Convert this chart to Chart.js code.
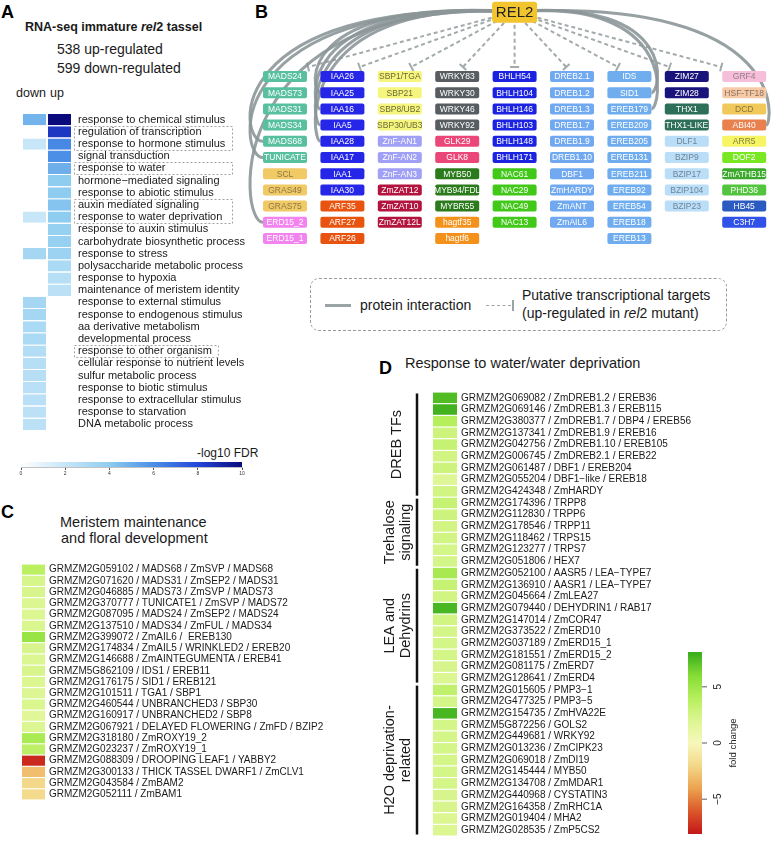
<!DOCTYPE html>
<html>
<head>
<meta charset="utf-8">
<script src="https://cdn.jsdelivr.net/npm/chart.js@4.4.1/dist/chart.umd.min.js"></script>
<style>
  body { margin:0; background:#fff; width:774px; height:846px; position:relative; overflow:hidden;
         font-family:"Liberation Sans", Arial, sans-serif; color:#1a1a1a; }
  canvas { position:absolute; }
  .t { position:absolute; white-space:nowrap; line-height:1; }
  .lbl { font-weight:bold; font-size:18px; color:#000; }
  .legend { position:absolute; left:310px; top:278px; width:417px; height:53px; border:1px dashed #9a9a9a; border-radius:9px; box-sizing:border-box; }
</style>
</head>
<body>

<div class="t lbl" style="left:1px;top:3px">A</div>
<div class="t" style="left:25px;top:21px;font-size:12.5px;font-weight:bold">RNA-seq immature <i>rel</i>2 tassel</div>
<div class="t" style="left:57px;top:42px;font-size:14px">538 up-regulated</div>
<div class="t" style="left:57px;top:60.5px;font-size:14px">599 down-regulated</div>
<div class="t" style="left:16px;top:87px;font-size:12.5px">down</div>
<div class="t" style="left:50px;top:87px;font-size:12.5px">up</div>
<div class="t" style="left:197px;top:446.5px;font-size:12px">-log10 FDR</div>

<div class="t lbl" style="left:255px;top:3px">B</div>
<div class="legend"></div>
<div style="position:absolute;left:325px;top:304px;width:26px;height:3px;background:#9aa3a5"></div>
<div class="t" style="left:360px;top:298px;font-size:14px">protein interaction</div>
<div style="position:absolute;left:486px;top:305px;width:25px;border-top:1.5px dashed #9aa3a5"></div>
<div style="position:absolute;left:512px;top:300px;width:1.5px;height:11px;background:#9aa3a5"></div>
<div class="t" style="left:522px;top:288px;font-size:14px">Putative transcriptional targets</div>
<div class="t" style="left:522px;top:306px;font-size:14px">(up-regulated in <i>rel</i>2 mutant)</div>

<div class="t lbl" style="left:1px;top:503px">C</div>
<div class="t" style="left:60px;top:515px;font-size:14.5px">Meristem maintenance</div>
<div class="t" style="left:61px;top:531px;font-size:14.5px">and floral development</div>

<div class="t lbl" style="left:379px;top:359px">D</div>
<div class="t" style="left:405px;top:356px;font-size:14.5px">Response to water/water deprivation</div>

<canvas id="goHeat" width="260" height="342" style="left:0;top:101px"></canvas>
<canvas id="goBar" width="260" height="30" style="left:0;top:455px"></canvas>
<canvas id="net" width="544" height="275" style="left:230px;top:0"></canvas>
<canvas id="merHeat" width="370" height="256" style="left:0;top:554px"></canvas>
<canvas id="watHeat" width="394" height="464" style="left:380px;top:382px"></canvas>
<canvas id="foldBar" width="100" height="200" style="left:660px;top:640px"></canvas>

<script>
Chart.defaults.font.family = '"Liberation Sans", Arial, sans-serif';
Chart.defaults.color = '#1a1a1a';

// ---- panel A : GO enrichment (-log10 FDR) ----
const goTerms = [
  'response to chemical stimulus', 'regulation of transcription', 'response to hormone stimulus',
  'signal transduction', 'response to water', 'hormone\u2212mediated signaling',
  'response to abiotic stimulus', 'auxin mediated signaling', 'response to water deprivation',
  'response to auxin stimulus', 'carbohydrate biosynthetic process', 'response to stress',
  'polysaccharide metabolic process', 'response to hypoxia', 'maintenance of meristem identity',
  'response to external stimulus', 'response to endogenous stimulus', 'aa derivative metabolism',
  'developmental process', 'response to other organism', 'cellular response to nutrient levels',
  'sulfur metabolic process', 'response to biotic stimulus', 'response to extracellular stimulus',
  'response to starvation', 'DNA metabolic process'
];
const goDown = [4.8, 0, 2.0, 0, 0, 0, 0, 0, 2.0, 0, 0, 3.2, 0, 0, 0,
                3.2, 3.2, 3.0, 3.0, 2.7, 2.6, 2.6, 2.5, 2.5, 2.4, 2.4];
const goUp   = [10, 8.5, 6.2, 6.0, 5.0, 4.0, 4.0, 4.3, 4.0, 3.7, 3.7, 3.5, 3.0, 2.6, 2.4,
                0, 0, 0, 0, 0, 0, 0, 0, 0, 0, 0];
const goHighlighted = [[1, 2, true], [4, 4, true], [7, 8, true], [19, 19, false]];
const fdrTicks = [0, 2, 4, 6, 8, 10];

// ---- panel B : REL2 network ----
const relHub = 'REL2';
const relColumns = [
  ['MADS24', 'MADS73', 'MADS31', 'MADS34', 'MADS68', 'TUNICATE', 'SCL', 'GRAS49', 'GRAS75', 'ERD15_2', 'ERD15_1'],
  ['IAA26', 'IAA25', 'IAA16', 'IAA5', 'IAA28', 'IAA17', 'IAA1', 'IAA30', 'ARF35', 'ARF27', 'ARF26'],
  ['SBP1/TGA', 'SBP21', 'SBP8/UB2', 'SBP30/UB3', 'ZnF-AN1', 'ZnF-AN2', 'ZnF-AN3', 'ZmZAT12', 'ZmZAT10', 'ZmZAT12L'],
  ['WRKY83', 'WRKY30', 'WRKY46', 'WRKY92', 'GLK29', 'GLK8', 'MYB50', 'MYB94/FDL', 'MYBR55', 'hagtf35', 'hagtf6'],
  ['BHLH54', 'BHLH104', 'BHLH146', 'BHLH103', 'BHLH148', 'BHLH171', 'NAC61', 'NAC29', 'NAC49', 'NAC13'],
  ['DREB2.1', 'DREB1.2', 'DREB1.3', 'DREB1.7', 'DREB1.9', 'DREB1.10', 'DBF1', 'ZmHARDY', 'ZmANT', 'ZmAIL6'],
  ['IDS', 'SID1', 'EREB179', 'EREB209', 'EREB205', 'EREB131', 'EREB211', 'EREB92', 'EREB54', 'EREB18', 'EREB13'],
  ['ZIM27', 'ZIM28', 'THX1', 'THX1-LIKE', 'DLF1', 'BZIP9', 'BZIP17', 'BZIP104', 'BZIP23'],
  ['GRF4', 'HSF-TF18', 'DCD', 'ABI40', 'ARR5', 'DOF2', 'ZmATHB15', 'PHD36', 'HB45', 'C3H7']
];
const relInteractors = ['MADS68', 'TUNICATE', 'ERD15_2', 'IAA25', 'IAA16', 'IAA5', 'IAA28', 'SID1', 'EREB179', 'ABI40'];

// ---- panel C : meristem genes (fold change) ----
const merGenes = [
  'GRMZM2G059102 / MADS68 / ZmSVP / MADS68', 'GRMZM2G071620 / MADS31 / ZmSEP2 / MADS31',
  'GRMZM2G046885 / MADS73 / ZmSVP / MADS73', 'GRMZM2G370777 / TUNICATE1 / ZmSVP / MADS72',
  'GRMZM2G087095 / MADS24 / ZmSEP2 / MADS24', 'GRMZM2G137510 / MADS34 / ZmFUL / MADS34',
  'GRMZM2G399072 / ZmAIL6 /  EREB130', 'GRMZM2G174834 / ZmAIL5 / WRINKLED2 / EREB20',
  'GRMZM2G146688 / ZmAINTEGUMENTA / EREB41', 'GRMZM5G862109 / IDS1 / EREB11',
  'GRMZM2G176175 / SID1 / EREB121', 'GRMZM2G101511 / TGA1 / SBP1',
  'GRMZM2G460544 / UNBRANCHED3 / SBP30', 'GRMZM2G160917 / UNBRANCHED2 / SBP8',
  'GRMZM2G067921 / DELAYED FLOWERING / ZmFD / BZIP2', 'GRMZM2G318180 / ZmROXY19_2',
  'GRMZM2G023237 / ZmROXY19_1', 'GRMZM2G088309 / DROOPING LEAF1 / YABBY2',
  'GRMZM2G300133 / THICK TASSEL DWARF1 / ZmCLV1', 'GRMZM2G043584 / ZmBAM2', 'GRMZM2G052111 / ZmBAM1'
];
const merFold = [3.8, 2.3, 2.2, 2.0, 1.9, 2.1, 5.2, 2.2, 2.0, 2.2, 2.0, 1.9, 2.1, 1.7, 1.9,
                 4.5, 3.6, -7.5, -3.0, -2.0, -1.9];

// ---- panel D : water deprivation genes (fold change) ----
const watGenes = [
  'GRMZM2G069082 / ZmDREB1.2 / EREB36', 'GRMZM2G069146 / ZmDREB1.3 / EREB115',
  'GRMZM2G380377 / ZmDREB1.7 / DBP4 / EREB56', 'GRMZM2G137341 / ZmDREB1.9 / EREB16',
  'GRMZM2G042756 / ZmDREB1.10 / EREB105', 'GRMZM2G006745 / ZmDREB2.1 / EREB22',
  'GRMZM2G061487 / DBF1 / EREB204', 'GRMZM2G055204 / DBF1\u2212like / EREB18', 'GRMZM2G424348 / ZmHARDY',
  'GRMZM2G174396 / TRPP8', 'GRMZM2G112830 / TRPP6', 'GRMZM2G178546 / TRPP11',
  'GRMZM2G118462 / TRPS15', 'GRMZM2G123277 / TRPS7', 'GRMZM2G051806 / HEX7',
  'GRMZM2G052100 / AASR5 / LEA\u2212TYPE7', 'GRMZM2G136910 / AASR1 / LEA\u2212TYPE7',
  'GRMZM2G045664 / ZmLEA27', 'GRMZM2G079440 / DEHYDRIN1 / RAB17', 'GRMZM2G147014 / ZmCOR47',
  'GRMZM2G373522 / ZmERD10', 'GRMZM2G037189 / ZmERD15_1', 'GRMZM2G181551 / ZmERD15_2',
  'GRMZM2G081175 / ZmERD7', 'GRMZM2G128641 / ZmERD4',
  'GRMZM2G015605 / PMP3\u22121', 'GRMZM2G477325 / PMP3\u22125', 'GRMZM2G154735 / ZmHVA22E',
  'GRMZM5G872256 / GOLS2', 'GRMZM2G449681 / WRKY92', 'GRMZM2G013236 / ZmCIPK23',
  'GRMZM2G069018 / ZmDI19', 'GRMZM2G145444 / MYB50', 'GRMZM2G134708 / ZmMDAR1',
  'GRMZM2G440968 / CYSTATIN3', 'GRMZM2G164358 / ZmRHC1A', 'GRMZM2G019404 / MHA2', 'GRMZM2G028535 / ZmP5CS2'
];
const watFold = [7.4, 7.8, 4.0, 2.8, 3.2, 2.6, 2.8, 1.8, 2.6,
                 3.2, 2.8, 2.6, 2.6, 2.4, 2.4,
                 4.6, 3.2, 2.6, 7.6, 2.6, 2.4, 2.4, 2.4, 2.2, 2.0,
                 3.4, 2.4, 7.6, 2.4, 2.4, 2.4, 2.4, 2.4, 2.4, 2.2, 2.2, 2.0, 2.0];
const watGroups = [['DREB TFs'], ['Trehalose', 'signaling'], ['LEA and', 'Dehydrins'], ['H2O deprivation-', 'related']];
const watGroupSizes = [9, 6, 10, 13];
const foldTicks = [-5, 0, 5];

// ---- colour scales ----
const fdrStops = [[0, '#ffffff'], [2, '#c7e6f8'], [4, '#8ecdf0'], [6, '#4b8fe6'], [8, '#2446da'], [10, '#0a0a7c']];
const foldStops = [[-8, '#c41a1a'], [-6, '#dc5a2a'], [-4, '#eca452'], [-2, '#f3d889'], [0, '#f7f7bb'],
                   [2, '#dcf692'], [4, '#b6ef5c'], [6, '#86dc36'], [8, '#3aae1c']];

function hex(c) { return [1, 3, 5].map(i => parseInt(c.slice(i, i + 2), 16)); }
function ramp(stops, v) {
  if (v <= stops[0][0]) return stops[0][1];
  for (let i = 1; i < stops.length; i++) {
    if (v <= stops[i][0]) {
      const [a, ca] = stops[i - 1], [b, cb] = stops[i];
      const f = (v - a) / (b - a), A = hex(ca), B = hex(cb);
      return 'rgb(' + A.map((x, k) => Math.round(x + (B[k] - x) * f)).join(',') + ')';
    }
  }
  return stops[stops.length - 1][1];
}

const base = { responsive: false, animation: false, devicePixelRatio: 1,
               plugins: { legend: { display: false }, tooltip: { enabled: false } } };

// heatmap drawn as floating horizontal bars, one column per value list
function heatmap(id, labels, cols, stops, o) {
  return new Chart(document.getElementById(id), {
    type: 'bar',
    data: {
      labels: labels,
      datasets: cols.map((vals, i) => ({
        data: vals.map(() => [i, i + 1]),
        backgroundColor: vals.map(v => ramp(stops, v)),
        borderColor: '#fff',
        borderWidth: o.border,
        borderSkipped: false,
        grouped: false, barPercentage: o.barPct, categoryPercentage: 1
      }))
    },
    options: Object.assign({}, base, {
      indexAxis: 'y',
      layout: { padding: { left: o.left, right: 0, top: 0, bottom: 0 } },
      scales: {
        x: { type: 'linear', min: 0, max: cols.length, display: false },
        y: { position: 'right', grid: { display: false, drawTicks: false }, border: { display: false },
             ticks: { autoSkip: false, padding: o.pad, color: '#1a1a1a', font: { size: o.font } },
             afterFit(s) { s.width = o.axisW; } }
      }
    }),
    plugins: o.plugins || []
  });
}

// dashed boxes round highlighted GO terms
const goBoxes = {
  id: 'goBoxes',
  afterDraw(chart) {
    const y = chart.scales.y, c = chart.ctx, h = y.height / goTerms.length;
    const x0 = chart.chartArea.right + 2;
    c.save();
    c.font = '11px "Liberation Sans", Arial';
    c.setLineDash([2, 2]); c.strokeStyle = '#8c8c8c'; c.lineWidth = 0.8;
    goHighlighted.forEach(([a, b, wide]) => {
      const top = y.getPixelForValue(a) - h / 2, bot = y.getPixelForValue(b) + h / 2;
      const x1 = wide ? 232 : chart.chartArea.right + 6 + c.measureText(goTerms[a]).width + 6;
      c.strokeRect(x0 + 0.5, Math.round(top) + 0.5, x1 - x0, Math.round(bot - top));
    });
    c.restore();
  }
};

heatmap('goHeat', goTerms, [goDown, goUp], fdrStops,
        { left: 22, axisW: 188, pad: 6, font: 11, barPct: 0.93, border: { left: 1, right: 1, top: 0, bottom: 0 }, plugins: [goBoxes] });

// colour key for panel A
new Chart(document.getElementById('goBar'), {
  type: 'bar',
  data: { labels: [''], datasets: [{
    data: [[fdrTicks[0], fdrTicks[fdrTicks.length - 1]]],
    barPercentage: 1, categoryPercentage: 1,
    backgroundColor(ctx) {
      const ch = ctx.chart; if (!ch.chartArea) return null;
      const x = ch.scales.x, g = ch.ctx.createLinearGradient(x.getPixelForValue(0), 0, x.getPixelForValue(10), 0);
      fdrStops.forEach(([v, col]) => g.addColorStop(v / 10, col));
      return g;
    }
  }] },
  options: Object.assign({}, base, {
    indexAxis: 'y',
    layout: { padding: { left: 21, right: 18, top: 7, bottom: 0 } },
    scales: {
      x: { type: 'linear', min: 0, max: 10,
           afterBuildTicks(s) { s.ticks = fdrTicks.map(v => ({ value: v })); },
           grid: { drawOnChartArea: false, tickLength: 3, color: '#555' },
           border: { color: '#999', width: 0.6 },
           ticks: { font: { size: 5 }, padding: 1, maxRotation: 0, color: '#333' },
           afterFit(s) { s.height = 18; } },
      y: { display: false }
    }
  })
});

// ---- panel B network ----
const familyColours = [
  [/^(MADS|TUNICATE)/, '#58c09f', '#fff'], [/^(SCL|GRAS)/, '#f1c965', '#8a7848'],
  [/^ERD15/, '#f283ef', '#fff'], [/^IAA/, '#2626e8', '#fff'], [/^ARF/, '#e8540f', '#fff'],
  [/^SBP/, '#f6f67e', '#6a6a3a'], [/^ZnF/, '#a0a0f6', '#fff'], [/^ZmZAT/, '#b3143e', '#fff'],
  [/^WRKY/, '#575d61', '#fff'], [/^GLK/, '#eb4679', '#fff'], [/^MYB/, '#2b7b1c', '#fff'],
  [/^hagtf/, '#f3911a', '#fff'], [/^BHLH/, '#1b23e0', '#fff'], [/^NAC/, '#41c819', '#fff'],
  [/^(DREB|DBF|ZmHARDY|ZmANT|ZmAIL)/, '#70a9f0', '#fff'], [/^(IDS|SID|EREB)/, '#6fadee', '#fff'],
  [/^ZIM/, '#19137c', '#fff'], [/^THX/, '#2d6f59', '#fff'], [/^(DLF|BZIP)/, '#badef8', '#6f8598'],
  [/^GRF/, '#f6bed9', '#8d7f86'], [/^HSF/, '#f6caa6', '#8a6f5c'], [/^DCD/, '#f1c95a', '#8a7440'],
  [/^ABI/, '#e8814e', '#fff'], [/^ARR/, '#f6f664', '#7f7f40'], [/^DOF/, '#79e822', '#fff'],
  [/^ZmATHB/, '#3ba92b', '#fff'], [/^PHD/, '#53c43d', '#fff'], [/^HB/, '#2b5bc1', '#fff'],
  [/^C3H/, '#3152e8', '#fff']
];
function famStyle(n) { return (familyColours.find(f => f[0].test(n)) || [0, '#999', '#fff']).slice(1); }

const geneNames = [], genePoints = [];
relColumns.forEach((col, ci) => col.forEach((n, ri) => { geneNames.push(n); genePoints.push({ x: ci, y: ri }); }));

const netDraw = {
  id: 'netDraw',
  afterDatasetsDraw(chart) {
    const c = chart.ctx, pts = chart.getDatasetMeta(0).data, hub = chart.getDatasetMeta(1).data[0];
    const bw = 44, bh = 11, pos = {};
    const sx = chart.scales.x, gap = sx.getPixelForValue(1) - sx.getPixelForValue(0) - bw;
    geneNames.forEach((n, i) => pos[n] = { el: pts[i], col: genePoints[i].x });
    c.save();
    // putative targets (dashed, bar ended)
    c.strokeStyle = '#a2aaac'; c.lineWidth = 2;
    relColumns.forEach(col => {
      const p = pos[col[0]].el;
      const ex = hub.x + (p.x - hub.x) * 0.9, ey = p.y - bh / 2 - 4;
      const x0 = hub.x + (p.x - hub.x) * 0.1, y0 = hub.y + 6;
      c.setLineDash([4, 3]);
      c.beginPath(); c.moveTo(x0, y0); c.lineTo(ex, ey); c.stroke();
      const a = Math.atan2(ey - y0, ex - x0), nx = -Math.sin(a) * 4.5, ny = Math.cos(a) * 4.5;
      c.setLineDash([]);
      c.beginPath(); c.moveTo(ex + nx, ey + ny); c.lineTo(ex - nx, ey - ny); c.stroke();
    });
    // protein interactions (solid curves)
    c.setLineDash([]); c.lineWidth = 3; c.strokeStyle = 'rgba(140,150,152,0.9)';
    relInteractors.forEach(n => {
      const { el: p, col } = pos[n], s = p.x < hub.x ? -1 : 1, ex = p.x + s * bw / 2;
      let bulge;
      if (s < 0) bulge = col === 0 ? 20 : gap * 0.55;
      else bulge = col === relColumns.length - 1 ? Math.min(12, chart.width - ex - 3) : gap * 0.55;
      c.beginPath(); c.moveTo(hub.x, hub.y);
      c.bezierCurveTo(ex + s * (bulge + 22), hub.y - 14, ex + s * bulge * 1.3, p.y, ex, p.y);
      c.stroke();
    });
    // gene boxes
    c.font = '8.5px "Liberation Sans", Arial'; c.textAlign = 'center'; c.textBaseline = 'middle';
    geneNames.forEach((n, i) => {
      const p = pts[i], [bg, fg] = famStyle(n);
      c.fillStyle = bg; c.beginPath(); c.roundRect(p.x - bw / 2, p.y - bh / 2, bw, bh, 2); c.fill();
      c.fillStyle = fg; c.fillText(n, p.x, p.y + 0.5);
    });
    // hub
    c.fillStyle = '#f2c42e'; c.beginPath(); c.roundRect(hub.x - 22.5, hub.y - 10, 45, 21, 3); c.fill();
    c.fillStyle = '#222'; c.font = '15px "Liberation Sans", Arial'; c.fillText(relHub, hub.x, hub.y + 1);
    c.restore();
  }
};

new Chart(document.getElementById('net'), {
  type: 'scatter',
  data: { datasets: [
    { data: genePoints, pointRadius: 0 },
    { data: [{ x: 4, y: -4 }], pointRadius: 0 }
  ] },
  options: Object.assign({}, base, {
    layout: { padding: { left: 26.3, right: 1.1, top: 3.6, bottom: 28.4 } },
    scales: {
      x: { type: 'linear', min: -0.5, max: 8.5, display: false },
      y: { type: 'linear', min: -4.5, max: 10.5, reverse: true, display: false }
    }
  }),
  plugins: [netDraw]
});

// ---- panel C ----
heatmap('merHeat', merGenes, [merFold], foldStops,
        { left: 22, axisW: 325, pad: 4, font: 10, barPct: 0.9, border: 0 });

// ---- panel D ----
const watBrackets = {
  id: 'watBrackets',
  afterDraw(chart) {
    const y = chart.scales.y, c = chart.ctx, h = y.height / watGenes.length;
    c.save();
    c.strokeStyle = '#111'; c.lineWidth = 2.5; c.fillStyle = '#1a1a1a';
    c.font = '14.5px "Liberation Sans", Arial'; c.textAlign = 'center'; c.textBaseline = 'middle';
    let start = 0;
    watGroups.forEach((lines, g) => {
      const end = start + watGroupSizes[g] - 1;
      const top = y.getPixelForValue(start) - h / 2 + 1.5, bot = y.getPixelForValue(end) + h / 2 - 1.5;
      c.beginPath(); c.moveTo(37, top); c.lineTo(37, bot); c.stroke();
      const mid = (top + bot) / 2;
      lines.forEach((txt, k) => {
        const x = lines.length === 1 ? 17 : (k === 0 ? 10 : 26);
        c.save(); c.translate(x, mid); c.rotate(-Math.PI / 2); c.fillText(txt, 0, 0); c.restore();
      });
      start = end + 1;
    });
    c.restore();
  }
};
heatmap('watHeat', watGenes, [watFold], foldStops,
        { left: 53, axisW: 317, pad: 4, font: 10, barPct: 0.9, border: 0, plugins: [watBrackets] });

// colour key for fold change
const foldKey = {
  id: 'foldKey',
  afterDraw(chart) {
    const y = chart.scales.y, c = chart.ctx, r = chart.chartArea.right;
    c.save();
    c.strokeStyle = '#333'; c.lineWidth = 0.8; c.fillStyle = '#222';
    c.font = '10px "Liberation Sans", Arial'; c.textAlign = 'center'; c.textBaseline = 'middle';
    foldTicks.forEach(v => {
      const py = y.getPixelForValue(v);
      c.beginPath(); c.moveTo(r, py); c.lineTo(r + 5, py); c.stroke();
      c.save(); c.translate(r + 16, py); c.rotate(-Math.PI / 2); c.fillText(v < 0 ? '\u2212' + (-v) : String(v), 0, 0); c.restore();
    });
    c.save(); c.translate(r + 31, y.getPixelForValue(0)); c.rotate(-Math.PI / 2);
    c.font = '9.5px "Liberation Sans", Arial'; c.fillText('fold change', 0, 0); c.restore();
    c.restore();
  }
};
new Chart(document.getElementById('foldBar'), {
  type: 'bar',
  data: { labels: [''], datasets: [{
    data: [[-8.1, 8.1]], barPercentage: 1, categoryPercentage: 1,
    backgroundColor(ctx) {
      const ch = ctx.chart; if (!ch.chartArea) return null;
      const y = ch.scales.y, g = ch.ctx.createLinearGradient(0, y.getPixelForValue(-8), 0, y.getPixelForValue(8));
      foldStops.forEach(([v, col]) => g.addColorStop((v + 8) / 16, col));
      return g;
    }
  }] },
  options: Object.assign({}, base, {
    layout: { padding: { left: 28, right: 58, top: 12, bottom: 6 } },
    scales: { x: { display: false }, y: { type: 'linear', min: -8.1, max: 8.1, display: false } }
  }),
  plugins: [foldKey]
});
</script>
</body>
</html>
